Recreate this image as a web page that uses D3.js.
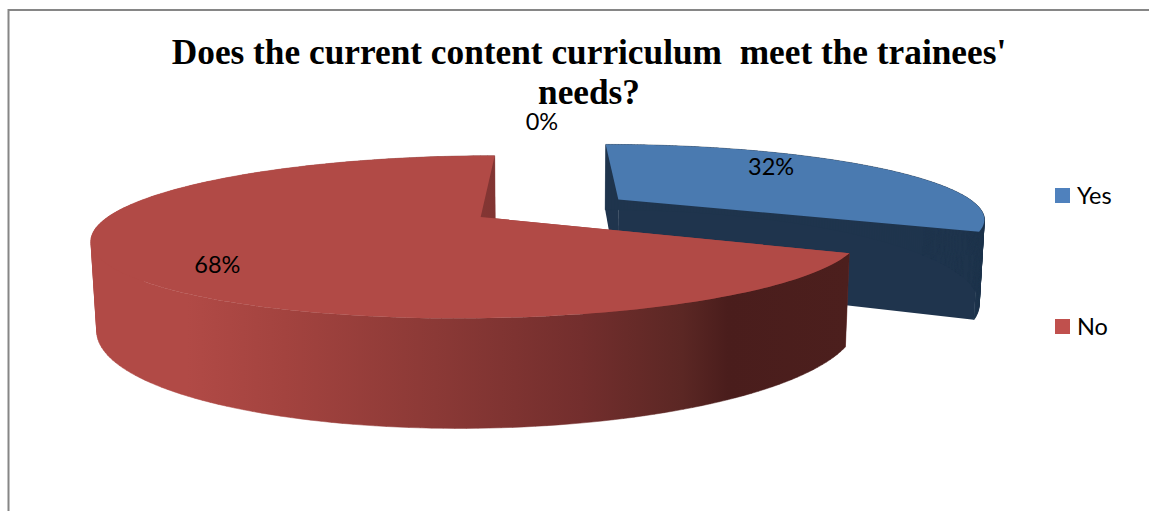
<!DOCTYPE html>
<html>
<head>
<meta charset="utf-8">
<script src="https://cdn.jsdelivr.net/npm/d3@7/dist/d3.min.js"></script>
<style>
html, body { margin: 0; padding: 0; background: #fff; }
svg { display: block; }
</style>
</head>
<body>
<script>
// Survey answers
const categories = ["Yes", "No", ""];
const shares = [32, 68, 0];
const legendEntries = ["Yes", "No"];
const titleLines = ["Does the current content curriculum  meet the trainees'", "needs?"];

// Face colours per answer
const topColors = ["#4A7AB0", "#B14A46", "#98B954"];
const wallColors = ["#1F344D", "#A14340", "#5A7030"];
const legendColors = ["#4F81BD", "#C0504D"];

const width = 1149, height = 511;
const svg = d3.select("body").append("svg").attr("width", width).attr("height", height);

// Perspective camera for the tilted disc: u runs right, v runs away from the
// viewer, z runs down through the disc's thickness.
const cam = { x0: 551.5, y0: 208, A: 362, B: 72, C: 83, t: 0.24, r: 0.0116 };
const project = (u, v, z = 0) => {
  const w = 1 + cam.t * v + cam.r * z;
  return [cam.x0 + cam.A * u / w, cam.y0 + (-cam.B * v + cam.C * z) / w];
};

const explode = 0.225;
const slices = d3.pie().sort(null).value(d => d)(shares).map((s, i) => {
  const mid = (s.startAngle + s.endAngle) / 2;
  return { ...s, i, mid, cu: explode * Math.sin(mid), cv: explode * Math.cos(mid) };
});

const rimPoint = (s, a, z) => project(s.cu + Math.sin(a), s.cv + Math.cos(a), z);
const apex = (s, z) => project(s.cu, s.cv, z);
const rimAngles = s => d3.range(0, 181).map(k => s.startAngle + (s.endAngle - s.startAngle) * k / 180);

const line = d3.line();
const defs = svg.append("defs");

// Side shading of the large slice, dark toward the right
const shade = defs.append("linearGradient")
  .attr("id", "noWall").attr("gradientUnits", "userSpaceOnUse")
  .attr("x1", 97).attr("x2", 848).attr("y1", 0).attr("y2", 0);
[[0, "#B14A46"], [0.12, "#B14A46"], [0.25, "#A3433F"], [0.45, "#8B3936"], [0.645, "#732E2D"], [0.78, "#5B2724"], [0.84, "#4A1D1C"], [1, "#4C1F1D"]]
  .forEach(([o, c]) => shade.append("stop").attr("offset", o).attr("stop-color", c));

// Chart frame: only the top and left rules are in view
svg.append("path")
  .attr("d", line([[8.5, height], [8.5, 10], [width, 10]]))
  .attr("fill", "none").attr("stroke", "#868686").attr("stroke-width", 2);

// Strips share a winding direction so that overlaps at the fold stay filled
const strip = pts => (d3.polygonArea(pts) < 0 ? line(pts.slice().reverse()) : line(pts)) + "Z";

const pieGroup = svg.append("g");
slices.filter(s => s.value > 0).forEach(s => {
  const g = pieGroup.append("g");
  const outerFill = s.i === 1 ? "url(#noWall)" : wallColors[s.i];
  // Radial faces
  [s.startAngle, s.endAngle].forEach(a => {
    g.append("path")
      .attr("d", line([apex(s, 0), rimPoint(s, a, 0), rimPoint(s, a, 1), apex(s, 1)]) + "Z")
      .attr("fill", wallColors[s.i]);
  });
  // Curved outer face, one strip per rim step
  const angles = rimAngles(s);
  g.append("path")
    .attr("d", d3.pairs(angles).map(([a, b]) =>
      strip([rimPoint(s, a, 0), rimPoint(s, b, 0), rimPoint(s, b, 1), rimPoint(s, a, 1)])).join(""))
    .attr("fill", outerFill).attr("stroke", outerFill).attr("stroke-width", 0.5);
  // Top face
  g.append("path")
    .attr("d", line([apex(s, 0), ...angles.map(a => rimPoint(s, a, 0))]) + "Z")
    .attr("fill", topColors[s.i]);
});

// Value labels: inside the filled slices, above the disc for the empty one
const labelFont = "Lato, 'Open Sans', sans-serif";
svg.append("g").selectAll("text").data(slices).join("text")
  .attr("transform", s => {
    const empty = s.value === 0;
    const a = empty ? s.mid : s.mid - 0.21;
    const rad = empty ? 1.67 : 0.77;
    const [x, y] = project((empty ? 0 : s.cu) + rad * Math.sin(a) - 0.037, (empty ? 0 : s.cv) + rad * Math.cos(a));
    return `translate(${x},${y})`;
  })
  .attr("text-anchor", "middle").attr("dy", "0.35em")
  .attr("font-family", labelFont).attr("font-size", 23.5).attr("fill", "#000")
  .text(s => `${s.value}%`);

// Title
svg.append("g").selectAll("text").data(titleLines).join("text")
  .attr("x", 589).attr("y", (d, i) => 64 + i * 39.5)
  .attr("text-anchor", "middle").attr("xml:space", "preserve")
  .style("white-space", "pre")
  .attr("font-family", "'Liberation Serif', serif").attr("font-weight", "bold")
  .attr("font-size", 35.3).attr("fill", "#000")
  .text(d => d);

// Legend
const legendY = d3.scalePoint().domain(legendEntries).range([195.5, 326.5]);
const legend = svg.append("g").selectAll("g").data(legendEntries).join("g")
  .attr("transform", d => `translate(1055,${legendY(d)})`);
legend.append("rect").attr("x", 0).attr("y", -7.5).attr("width", 15).attr("height", 15)
  .attr("fill", (d, i) => legendColors[i]);
legend.append("text").attr("x", 22).attr("y", 8)
  .attr("font-family", labelFont).attr("font-size", 23.5).attr("fill", "#000")
  .text(d => d);
</script>
</body>
</html>
